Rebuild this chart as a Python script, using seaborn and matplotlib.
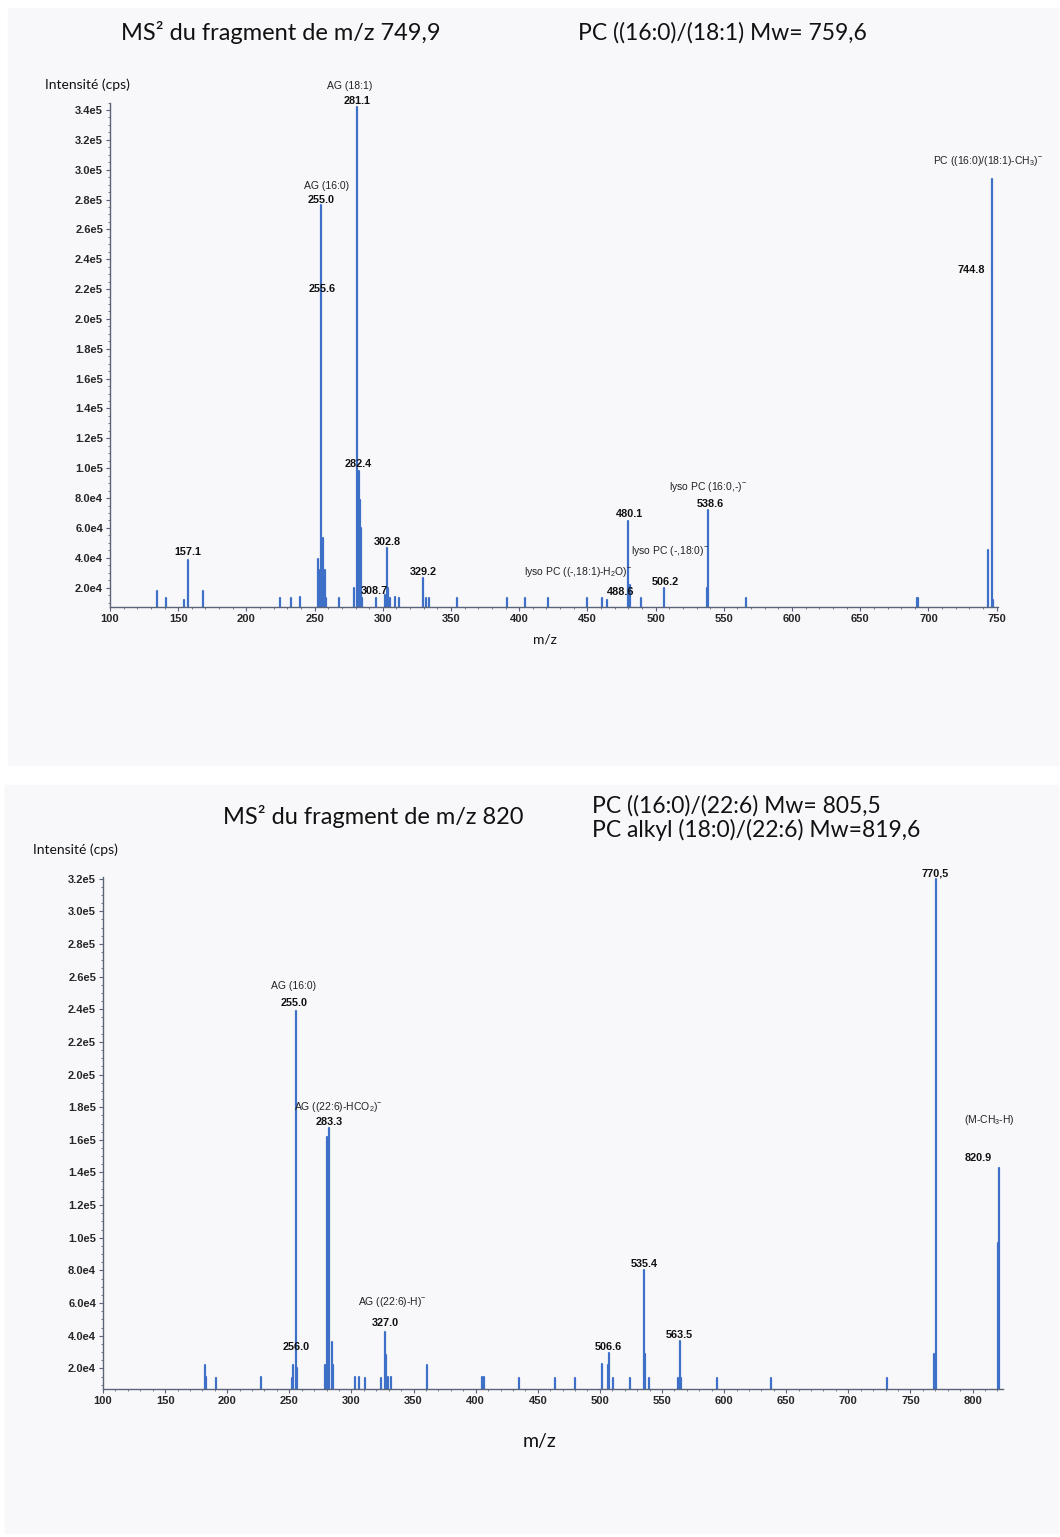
import pandas as pd
import matplotlib.pyplot as plt
import seaborn as sns
from matplotlib.patches import Rectangle
from matplotlib.ticker import MultipleLocator

# --- top spectrum: MS2 of m/z 749,9 ---
top_mz = [134.4, 140.8, 154.0, 157.1, 168.0, 224.6, 232.9, 239.2, 252.4, 253.4,
          255.0, 256.5, 257.3, 258.2, 267.7, 278.8, 281.1, 282.4, 283.3, 283.8,
          284.5, 294.9, 301.5, 302.8, 303.6, 305.4, 308.7, 312.0, 329.2, 331.5,
          333.5, 354.5, 391.4, 404.0, 421.0, 449.6, 460.9, 464.0, 480.1, 481.0,
          489.0, 506.2, 538.0, 538.6, 566.5, 691.6, 692.4, 743.9, 746.9, 747.7]
top_int = [1.8e4, 1.3e4, 1.2e4, 3.85e4, 1.8e4, 1.3e4, 1.3e4, 1.4e4, 3.9e4, 3.2e4,
           2.76e5, 5.3e4, 3.2e4, 1.3e4, 1.3e4, 2.0e4, 3.42e5, 9.8e4, 7.9e4, 6.0e4,
           1.3e4, 1.3e4, 1.5e4, 4.65e4, 2.0e4, 1.3e4, 1.4e4, 1.3e4, 2.65e4, 1.3e4,
           1.3e4, 1.3e4, 1.3e4, 1.3e4, 1.3e4, 1.3e4, 1.3e4, 1.2e4, 6.47e4, 2.2e4,
           1.3e4, 1.98e4, 2.0e4, 7.18e4, 1.3e4, 1.3e4, 1.3e4, 4.5e4, 2.94e5, 1.2e4]
top_yticks = [2e4, 4e4, 6e4, 8e4, 1e5, 1.2e5, 1.4e5, 1.6e5, 1.8e5, 2e5, 2.2e5,
              2.4e5, 2.6e5, 2.8e5, 3e5, 3.2e5, 3.4e5]
top_yticklabels = ["2.0e4", "4.0e4", "6.0e4", "8.0e4", "1.0e5", "1.2e5", "1.4e5",
                   "1.6e5", "1.8e5", "2.0e5", "2.2e5", "2.4e5", "2.6e5", "2.8e5",
                   "3.0e5", "3.2e5", "3.4e5"]
top_xticks = [100, 150, 200, 250, 300, 350, 400, 450, 500, 550, 600, 650, 700, 750]

# peak labels (text, x, y, bold)
top_labels = [
    ("AG (18:1)", 275.8, 3.56e5, False),
    ("281.1", 281.0, 3.46e5, True),
    ("AG (16:0)", 259.0, 2.89e5, False),
    ("255.0", 254.5, 2.80e5, True),
    ("255.6", 255.3, 2.20e5, True),
    ("282.4", 281.7, 1.03e5, True),
    ("157.1", 156.9, 4.38e4, True),
    ("302.8", 303.0, 5.05e4, True),
    ("329.2", 329.4, 3.05e4, True),
    ("308.7", 294.2, 1.75e4, True),
    ("lyso PC ((-,18:1)-H$_2$O)$^{-}$", 442.9, 3.05e4, False),
    ("488.6", 474.1, 1.73e4, True),
    ("480.1", 480.7, 6.96e4, True),
    ("lyso PC (-,18:0)$^{-}$", 510.8, 4.47e4, False),
    ("506.2", 507.0, 2.36e4, True),
    ("lyso PC (16:0,-)$^{-}$", 538.7, 8.71e4, False),
    ("538.6", 539.8, 7.63e4, True),
    ("PC ((16:0)/(18:1)-CH$_3$)$^{-}$", 743.5, 3.06e5, False),
    ("744.8", 731.4, 2.33e5, True),
]

# --- bottom spectrum: MS2 of m/z 820 ---
bot_mz = [182.4, 183.0, 190.6, 226.8, 252.5, 253.2, 255.0, 256.0, 278.7, 280.5,
          282.2, 284.3, 285.0, 302.6, 306.0, 310.9, 323.5, 327.0, 328.0, 329.8,
          331.7, 361.1, 405.4, 406.7, 435.1, 463.6, 480.2, 501.3, 506.5, 507.1,
          510.9, 524.5, 535.4, 536.5, 539.4, 562.8, 564.2, 565.0, 594.4, 637.6,
          731.4, 769.0, 770.8, 820.4, 821.2]
bot_int = [2.2e4, 1.5e4, 1.4e4, 1.5e4, 1.4e4, 2.2e4, 2.39e5, 2.0e4, 2.2e4, 1.62e5,
           1.67e5, 3.6e4, 2.2e4, 1.5e4, 1.5e4, 1.4e4, 1.4e4, 4.24e4, 2.8e4, 1.5e4,
           1.5e4, 2.2e4, 1.5e4, 1.5e4, 1.4e4, 1.4e4, 1.4e4, 2.26e4, 2.2e4, 2.95e4,
           1.4e4, 1.4e4, 8.0e4, 2.9e4, 1.4e4, 1.4e4, 3.69e4, 1.4e4, 1.4e4, 1.4e4,
           1.4e4, 2.9e4, 3.2e5, 9.7e4, 1.43e5]
bot_yticks = top_yticks[:16]
bot_yticklabels = top_yticklabels[:16]
bot_xticks = [100, 150, 200, 250, 300, 350, 400, 450, 500, 550, 600, 650, 700, 750, 800]

bot_labels = [
    ("770,5", 769.7, 3.23e5, True),
    ("AG (16:0)", 253.7, 2.54e5, False),
    ("255.0", 253.7, 2.44e5, True),
    ("AG ((22:6)-HCO$_2$)$^{-}$", 289.6, 1.80e5, False),
    ("283.3", 282.3, 1.71e5, True),
    ("AG ((22:6)-H)$^{-}$", 332.6, 6.07e4, False),
    ("327.0", 327.0, 4.79e4, True),
    ("256.0", 255.8, 3.32e4, True),
    ("506.6", 506.5, 3.32e4, True),
    ("535.4", 535.7, 8.42e4, True),
    ("563.5", 563.6, 4.04e4, True),
    ("(M-CH$_3$-H)", 813.2, 1.72e5, False),
    ("820.9", 804.3, 1.49e5, True),
]

sns.set_theme(style="ticks")
plt.rcParams['font.family'] = ['Liberation Sans', 'DejaVu Sans']
plt.rcParams['mathtext.fontset'] = 'custom'
plt.rcParams['mathtext.rm'] = 'Liberation Sans'
plt.rcParams['mathtext.it'] = 'Liberation Sans'

peak_color = "#3f70c8"
axis_color = "#5a6478"
title_font = ['Lato', 'DejaVu Sans']


def sticks(mz, inten):
    # each peak becomes its own vertical segment from 0 to its intensity
    rows = []
    for i, (m, v) in enumerate(zip(mz, inten)):
        rows.append({'mz': m, 'I': 0.0, 'peak': i})
        rows.append({'mz': m, 'I': v, 'peak': i})
    return pd.DataFrame(rows)


def draw_spectrum(ax, mz, inten, xlim, ylim, xticks, yticks, yticklabels, labels):
    sns.lineplot(data=sticks(mz, inten), x='mz', y='I', units='peak',
                 estimator=None, sort=False, color=peak_color, lw=1.6, ax=ax)
    ax.set_xlim(*xlim)
    ax.set_ylim(*ylim)
    ax.set_xticks(xticks)
    ax.set_xticklabels([str(t) for t in xticks])
    ax.set_yticks(yticks)
    ax.set_yticklabels(yticklabels)
    ax.xaxis.set_minor_locator(MultipleLocator(10))
    ax.yaxis.set_minor_locator(MultipleLocator(5000))
    ax.set_xlabel("")
    ax.set_ylabel("")
    ax.set_facecolor("none")
    sns.despine(ax=ax)
    for s in ['left', 'bottom']:
        ax.spines[s].set_color(axis_color)
        ax.spines[s].set_linewidth(1.0)
    ax.tick_params(which='major', length=3, width=0.8, color=axis_color,
                   labelsize=8, pad=2)
    ax.tick_params(which='minor', length=1.5, width=0.6, color=axis_color)
    for lab in ax.get_xticklabels() + ax.get_yticklabels():
        lab.set_fontweight('bold')
    for text, x, y, bold in labels:
        ax.text(x, y, text, ha='center', va='center', clip_on=False,
                fontsize=7.8 if bold else 7.5,
                fontweight='bold' if bold else 'normal',
                color='#111111' if bold else '#222222')


fig = plt.figure(figsize=(10.6, 15.37), dpi=100, facecolor='white')
H = 1537.0
W = 1060.0

# scanned page tone, kept behind the axes
fig.patches.append(Rectangle((8 / W, 1 - 765 / H), 1050 / W, 757 / H,
                             transform=fig.transFigure, color='#f8f8fb', zorder=-5))
fig.patches.append(Rectangle((5 / W, 1 - 1533 / H), 1053 / W, 748 / H,
                             transform=fig.transFigure, color='#f8f8fb', zorder=-5))

ax1 = fig.add_axes([110 / W, 1 - 607 / H, (998 - 110) / W, (607 - 102.5) / H])
draw_spectrum(ax1, top_mz, top_int, (100, 751), (7000, 3.45e5),
              top_xticks, top_yticks, top_yticklabels, top_labels)

ax2 = fig.add_axes([103 / W, 1 - 1389.3 / H, (1003 - 103) / W, (1389.3 - 877) / H])
draw_spectrum(ax2, bot_mz, bot_int, (100, 824.5), (7200, 3.21e5),
              bot_xticks, bot_yticks, bot_yticklabels, bot_labels)

# titles and axis captions
fig.text(281 / W, 1 - 33 / H, "MS² du fragment de m/z 749,9", ha='center', va='center',
         fontsize=17, family=title_font, color='#111111')
fig.text(578 / W, 1 - 33 / H, "PC ((16:0)/(18:1) Mw= 759,6", ha='left', va='center',
         fontsize=16.5, family=title_font, color='#111111')
fig.text(45 / W, 1 - 85 / H, "Intensité (cps)", ha='left', va='center',
         fontsize=10, family=title_font, color='#111111')
fig.text(545 / W, 1 - 640 / H, "m/z", ha='center', va='center',
         fontsize=10, family=title_font, color='#111111')

fig.text(373 / W, 1 - 816 / H, "MS² du fragment de m/z 820", ha='center', va='center',
         fontsize=17, family=title_font, color='#111111')
fig.text(592 / W, 1 - 806 / H, "PC ((16:0)/(22:6) Mw= 805,5", ha='left', va='center',
         fontsize=16.5, family=title_font, color='#111111')
fig.text(592 / W, 1 - 830 / H, "PC alkyl (18:0)/(22:6) Mw=819,6", ha='left', va='center',
         fontsize=16.5, family=title_font, color='#111111')
fig.text(33 / W, 1 - 850 / H, "Intensité (cps)", ha='left', va='center',
         fontsize=10, family=title_font, color='#111111')
fig.text(540 / W, 1 - 1441 / H, "m/z", ha='center', va='center',
         fontsize=14, family=title_font, color='#111111')

fig.savefig("out.png", dpi=100, facecolor='white')
